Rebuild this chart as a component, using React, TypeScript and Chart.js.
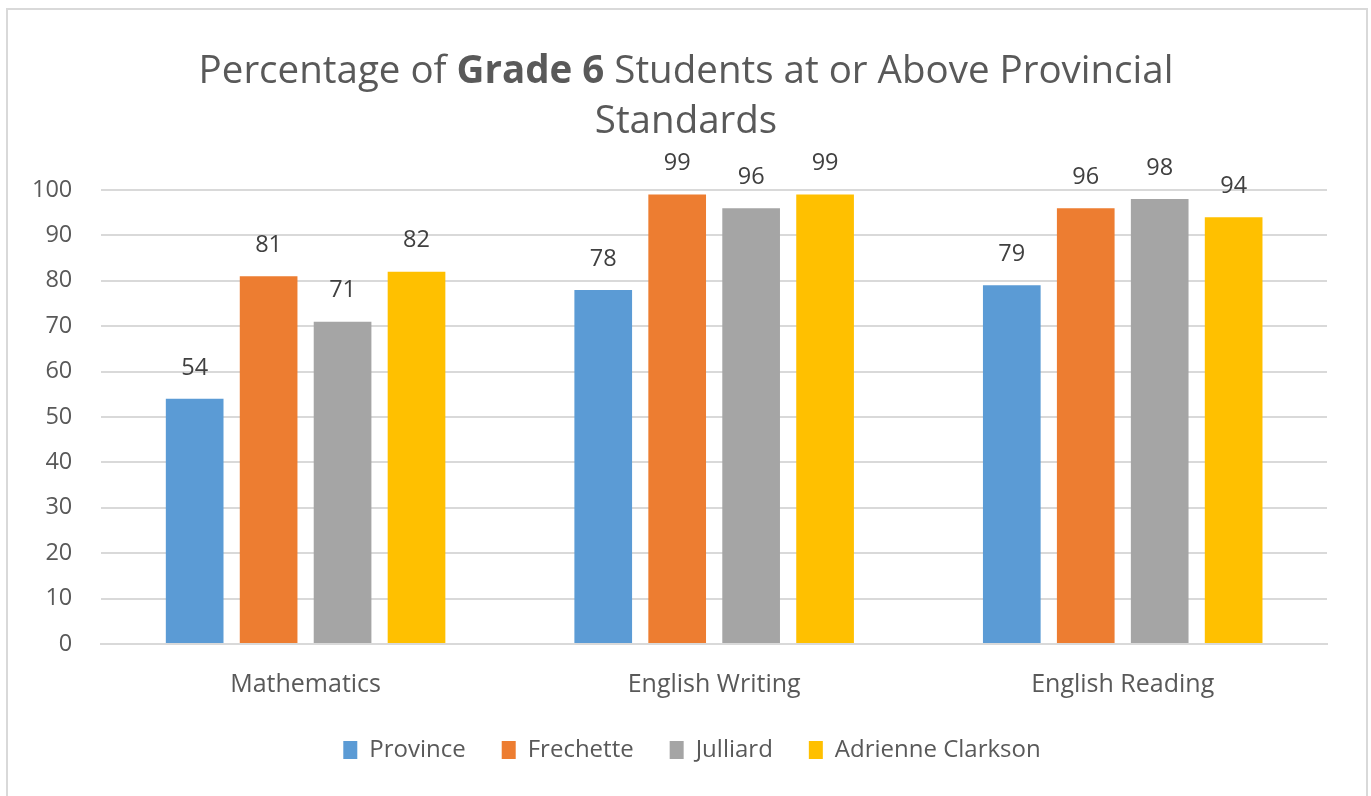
import React, { useEffect, useRef } from "react";
import { Chart, registerables } from "chart.js";

Chart.register(...registerables);

const categories = ["Mathematics", "English Writing", "English Reading"];
const seriesNames = ["Province", "Frechette", "Julliard", "Adrienne Clarkson"];
const province = [54, 78, 79];
const frechette = [81, 99, 96];
const julliard = [71, 96, 98];
const adrienne = [82, 99, 94];
const seriesColors = ["#5B9BD5", "#ED7D31", "#A5A5A5", "#FFC000"];
const yTicks = { min: 0, max: 100, step: 10 };

const FONT = "'Open Sans', 'Noto Sans', sans-serif";

const framePlugin = {
  id: "frame",
  beforeDraw(chart: any) {
    const ctx = chart.ctx;
    ctx.save();
    ctx.fillStyle = "#ffffff";
    ctx.fillRect(0, 0, chart.width, chart.height);
    ctx.strokeStyle = "#d9d9d9";
    ctx.lineWidth = 2;
    ctx.strokeRect(7, 9, 1360, 900);
    ctx.restore();
  },
};

const legendShiftPlugin = {
  id: "legendShift",
  afterLayout(chart: any) {
    const lg = chart.legend;
    if (lg) {
      lg.left += 27;
      lg.right += 27;
    }
  },
};

const titlePlugin = {
  id: "richTitle",
  afterDraw(chart: any) {
    const ctx = chart.ctx;
    ctx.save();
    ctx.fillStyle = "#595959";
    ctx.textBaseline = "alphabetic";
    const size = 38.5;
    const normal = `${size}px ${FONT}`;
    const bold = `bold ${size}px ${FONT}`;
    const parts: [string, string][] = [
      ["Percentage of ", normal],
      ["Grade 6", bold],
      [" Students at or Above Provincial", normal],
    ];
    let total = 0;
    for (const [t, f] of parts) {
      ctx.font = f;
      total += ctx.measureText(t).width;
    }
    const cx = 686;
    let x = cx - total / 2;
    ctx.textAlign = "left";
    for (const [t, f] of parts) {
      ctx.font = f;
      ctx.fillText(t, x, 83);
      x += ctx.measureText(t).width;
    }
    ctx.font = normal;
    ctx.textAlign = "center";
    ctx.fillText("Standards", cx, 133);
    ctx.restore();
  },
};

const labelPlugin = {
  id: "barLabels",
  afterDatasetsDraw(chart: any) {
    const ctx = chart.ctx;
    ctx.save();
    ctx.font = `23.5px ${FONT}`;
    ctx.fillStyle = "#404040";
    ctx.textAlign = "center";
    ctx.textBaseline = "middle";
    chart.data.datasets.forEach((ds: any, i: number) => {
      const meta = chart.getDatasetMeta(i);
      meta.data.forEach((bar: any, j: number) => {
        ctx.fillText(String(ds.data[j]), bar.x, bar.y - 31);
      });
    });
    ctx.restore();
  },
};

export default function App() {
  const ref = useRef<HTMLCanvasElement>(null);
  useEffect(() => {
    document.body.style.margin = "0";
    const values = [province, frechette, julliard, adrienne];
    const chart = new Chart(ref.current!, {
      type: "bar",
      data: {
        labels: categories,
        datasets: seriesNames.map((name, i) => ({
          label: name,
          data: values[i],
          backgroundColor: seriesColors[i],
          borderWidth: 0,
          barPercentage: 0.78,
          categoryPercentage: 0.724,
        })),
      },
      options: {
        responsive: false,
        animation: false,
        layout: { padding: { top: 190, left: 3, right: 44, bottom: 24 } },
        plugins: {
          title: { display: false },
          tooltip: { enabled: false },
          legend: {
            position: "bottom",
            labels: {
              boxWidth: 14,
              boxHeight: 18,
              padding: 36,
              color: "#595959",
              font: { family: FONT, size: 24 },
            },
          },
        },
        scales: {
          x: {
            grid: { display: false, drawTicks: false },
            border: { display: true, color: "#d9d9d9", width: 2 },
            ticks: {
              color: "#595959",
              padding: 26,
              font: { family: FONT, size: 25 },
            },
            afterFit(scale: any) {
              scale.height -= 24;
            },
          },
          y: {
            min: yTicks.min,
            max: yTicks.max,
            grid: { color: "#d9d9d9", lineWidth: 2, drawTicks: false },
            border: { display: false },
            ticks: {
              stepSize: yTicks.step,
              color: "#595959",
              padding: 29,
              font: { family: FONT, size: 23.5 },
            },
          },
        },
      },
      plugins: [framePlugin, legendShiftPlugin, titlePlugin, labelPlugin],
    });
    return () => chart.destroy();
  }, []);
  return <canvas ref={ref} width={1371} height={796} style={{ display: "block" }} />;
}
